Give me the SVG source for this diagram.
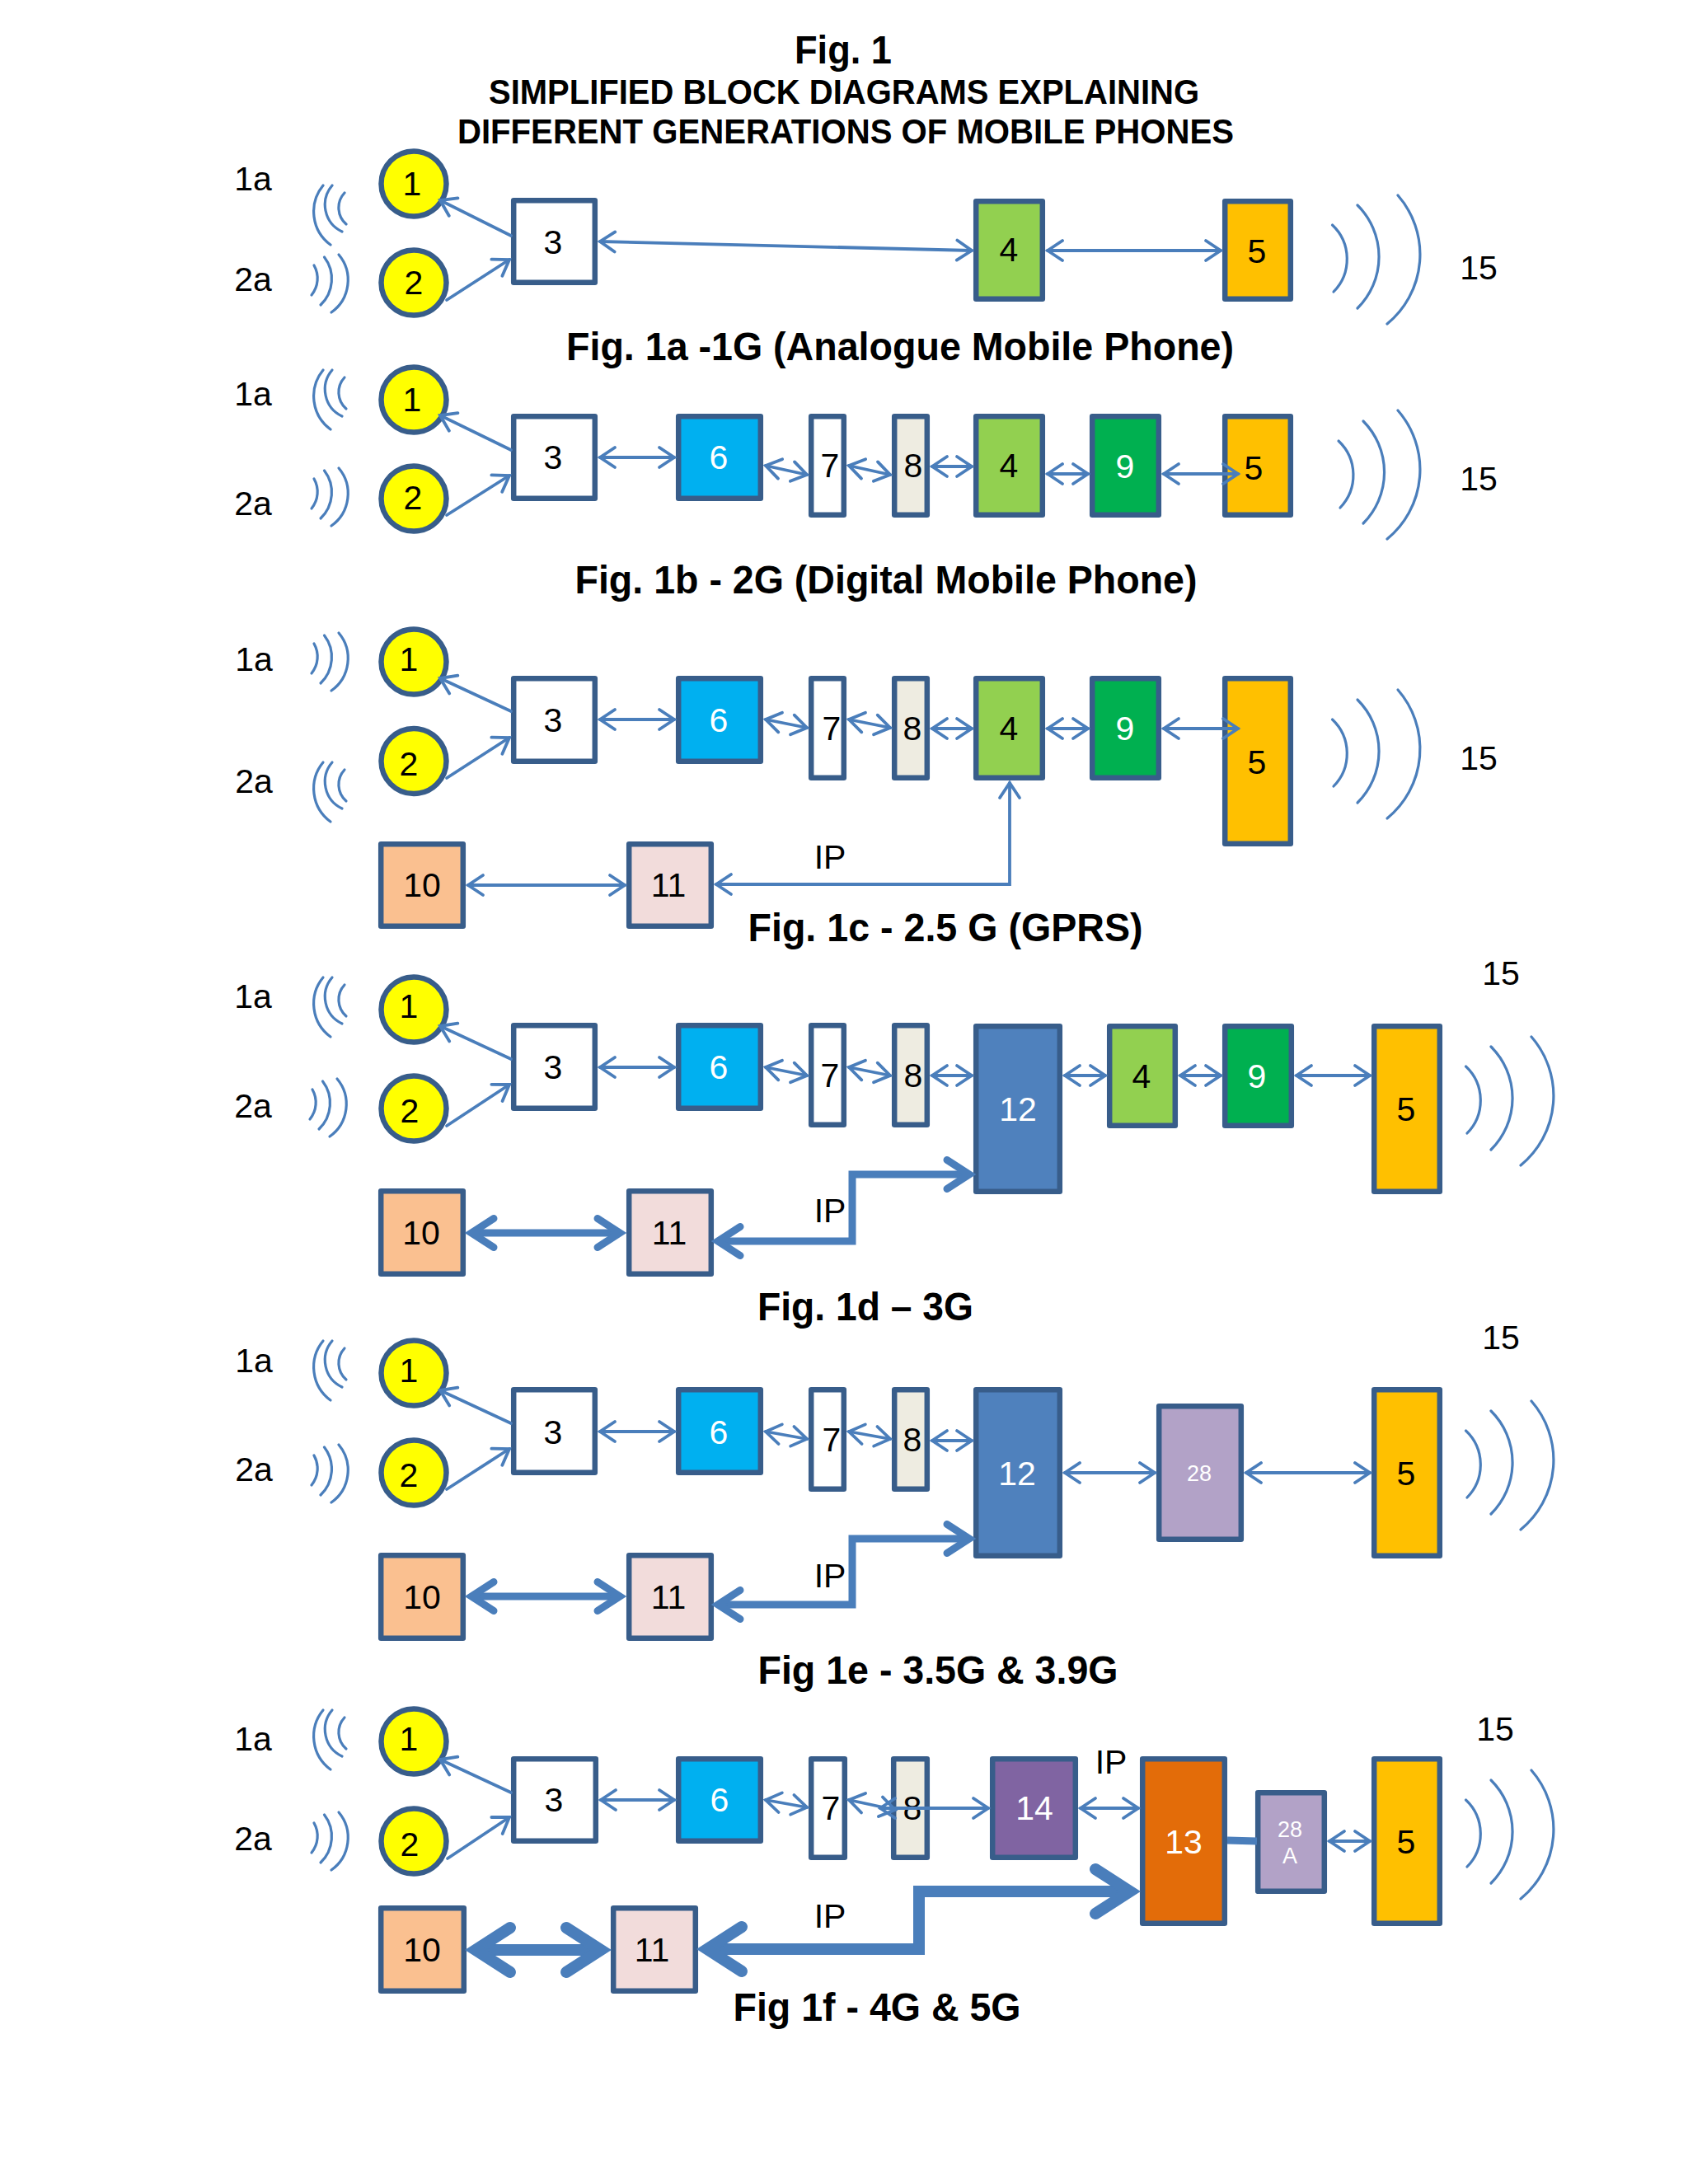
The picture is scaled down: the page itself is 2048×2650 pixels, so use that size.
<svg xmlns="http://www.w3.org/2000/svg" xmlns:xlink="http://www.w3.org/1999/xlink" width="2048" height="2650" viewBox="0 0 2048 2650">
<style>
text{font-family:"Liberation Sans",Arial,sans-serif;font-size:41px;text-anchor:middle;fill:#000}
.t{font-weight:bold;font-size:48px}
.s{font-weight:bold;font-size:42px}
.w{fill:#fff}
.sm{font-size:27px;fill:#fff}
rect,ellipse{stroke:#385d8a;stroke-width:6.5;stroke-linejoin:round}
ellipse{fill:#ff0}
.c0{fill:#fff}.c4{fill:#92d050}.c5{fill:#ffc000}.c6{fill:#00b0f0}.c8{fill:#eeece1}.c9{fill:#00b050}.c10{fill:#fac090}.c11{fill:#f2dcdb}.c12{fill:#4f81bd}.c13{fill:#e36c09}.c14{fill:#8064a2}.c28{fill:#b2a2c7}
path{fill:none;stroke:#4a7ebb;stroke-linecap:round;stroke-linejoin:miter}
.l{stroke-width:3.8}
.be{marker-start:url(#h);marker-end:url(#h)}
.e{marker-end:url(#h)}
.m{stroke-width:9;marker-start:url(#mh);marker-end:url(#mh);stroke-linecap:butt}
.f{stroke-width:14;marker-start:url(#th);marker-end:url(#th);stroke-linecap:butt}
.wv{stroke-width:3.2}
</style>
<defs>
<marker id="h" markerUnits="userSpaceOnUse" markerWidth="60" markerHeight="60" refX="30" refY="30" orient="auto-start-reverse"><path d="M12 18 L30 30 L12 42" stroke-width="3.8"/></marker>
<marker id="mh" markerUnits="userSpaceOnUse" markerWidth="90" markerHeight="90" refX="60" refY="45" orient="auto-start-reverse"><path d="M33 27.5 L60 45 L33 62.5" stroke-width="9"/></marker>
<marker id="th" markerUnits="userSpaceOnUse" markerWidth="120" markerHeight="120" refX="80" refY="60" orient="auto-start-reverse"><path d="M38 33 L80 60 L38 87" stroke-width="14"/></marker>
<g id="wa"><path class="wv" d="M392 225A50 50 0 0 0 401 297"/><path class="wv" d="M403 225A36 36 0 0 0 415 281"/><path class="wv" d="M418 234A26.5 26.5 0 0 0 420 272"/></g>
<g id="wb"><path class="wv" d="M381 322A32 32 0 0 1 378 358"/><path class="wv" d="M393.5 312A43.7 43.7 0 0 1 389 370"/><path class="wv" d="M411 309A48 48 0 0 1 402 379"/></g>
<g id="wc"><path class="wv" d="M1616.5 273A56.7 56.7 0 0 1 1618 354"/><path class="wv" d="M1647 249A88 88 0 0 1 1647 374"/><path class="wv" d="M1696 237A109 109 0 0 1 1683 393"/></g>
</defs>
<rect width="2048" height="2650" style="fill:#fff;stroke:none"/>
<g id="titles">
<text class="t" x="1023" y="77" textLength="118" lengthAdjust="spacingAndGlyphs">Fig. 1</text>
<text class="s" x="1024" y="126" textLength="862" lengthAdjust="spacingAndGlyphs">SIMPLIFIED BLOCK DIAGRAMS EXPLAINING</text>
<text class="s" x="1026" y="174" textLength="942" lengthAdjust="spacingAndGlyphs">DIFFERENT GENERATIONS OF MOBILE PHONES</text>
<text class="t" x="1092" y="437" textLength="810" lengthAdjust="spacingAndGlyphs">Fig. 1a -1G (Analogue Mobile Phone)</text>
<text class="t" x="1075" y="720" textLength="755" lengthAdjust="spacingAndGlyphs">Fig. 1b - 2G (Digital Mobile Phone)</text>
<text class="t" x="1147" y="1142" textLength="479" lengthAdjust="spacingAndGlyphs">Fig. 1c - 2.5 G (GPRS)</text>
<text class="t" x="1050" y="1602" textLength="262" lengthAdjust="spacingAndGlyphs">Fig. 1d – 3G</text>
<text class="t" x="1138" y="2043" textLength="437" lengthAdjust="spacingAndGlyphs">Fig 1e - 3.5G &amp; 3.9G</text>
<text class="t" x="1064" y="2452" textLength="349" lengthAdjust="spacingAndGlyphs">Fig 1f - 4G &amp; 5G</text>
</g>
<g id="waves">
<use xlink:href="#wa"/><use xlink:href="#wb"/><use xlink:href="#wc"/>
<use xlink:href="#wa" y="224"/><use xlink:href="#wb" y="259"/>
<path class="wv" d="M1624 535A57 57 0 0 1 1626 616"/><path class="wv" d="M1654 511A88 88 0 0 1 1654 635"/><path class="wv" d="M1696 498A109 109 0 0 1 1683 654"/>
<use xlink:href="#wb" y="459"/><use xlink:href="#wa" y="700"/><use xlink:href="#wc" y="600"/>
<use xlink:href="#wa" y="961"/><use xlink:href="#wb" x="-2" y="1000"/><use xlink:href="#wc" x="162" y="1021"/>
<use xlink:href="#wa" y="1402"/><use xlink:href="#wb" y="1444"/><use xlink:href="#wc" x="162" y="1463"/>
<use xlink:href="#wa" y="1850"/><use xlink:href="#wb" y="1890"/><use xlink:href="#wc" x="162" y="1911"/>
</g>
<g id="nodes">
<!-- 1a -->
<g id="a-la1"><text x="307" y="231">1a</text></g><g id="a-la2"><text x="307" y="353">2a</text></g><g id="a-la15"><text x="1794" y="339">15</text></g>
<g id="a-1"><ellipse cx="502" cy="223" rx="39.5" ry="39.5"/><text x="500" y="237">1</text></g>
<g id="a-2"><ellipse cx="502" cy="343" rx="39.5" ry="39.5"/><text x="502" y="357">2</text></g>
<g id="a-3"><rect class="c0" x="623.2" y="243.2" width="98.6" height="99.6"/><text x="671" y="308">3</text></g>
<g id="a-4"><rect class="c4" x="1184.2" y="244.2" width="80.6" height="118.6"/><text x="1224" y="317">4</text></g>
<g id="a-5"><rect class="c5" x="1486.2" y="244.2" width="79.6" height="118.6"/><text x="1525" y="319">5</text></g>
<!-- 1b -->
<g id="b-la1"><text x="307" y="492">1a</text></g><g id="b-la2"><text x="307" y="625">2a</text></g><g id="b-la15"><text x="1794" y="595">15</text></g>
<g id="b-1"><ellipse cx="502" cy="485" rx="39.5" ry="39.5"/><text x="500" y="499">1</text></g>
<g id="b-2"><ellipse cx="502" cy="605" rx="39.5" ry="39.5"/><text x="501" y="618">2</text></g>
<g id="b-3"><rect class="c0" x="623.2" y="505.2" width="98.6" height="99.6"/><text x="671" y="569">3</text></g>
<g id="b-6"><rect class="c6" x="823.2" y="505.2" width="99.6" height="99.6"/><text class="w" x="872" y="569">6</text></g>
<g id="b-7"><rect class="c0" x="984.2" y="505.2" width="39.6" height="119.6"/><text x="1007" y="579">7</text></g>
<g id="b-8"><rect class="c8" x="1085.2" y="505.2" width="39.6" height="119.6"/><text x="1108" y="579">8</text></g>
<g id="b-4"><rect class="c4" x="1184.2" y="505.2" width="80.6" height="119.6"/><text x="1224" y="579">4</text></g>
<g id="b-9"><rect class="c9" x="1325.2" y="505.2" width="80.6" height="119.6"/><text class="w" x="1365" y="580">9</text></g>
<g id="b-5"><rect class="c5" x="1486.2" y="505.2" width="79.6" height="119.6"/><text x="1521" y="582">5</text></g>
<!-- 1c -->
<g id="c-la1"><text x="308" y="814">1a</text></g><g id="c-la2"><text x="308" y="962">2a</text></g><g id="c-la15"><text x="1794" y="934">15</text></g>
<g id="c-1"><ellipse cx="502" cy="803" rx="39.5" ry="39.5"/><text x="496" y="814">1</text></g>
<g id="c-2"><ellipse cx="502" cy="923.5" rx="39.5" ry="39.5"/><text x="496" y="941">2</text></g>
<g id="c-3"><rect class="c0" x="623.2" y="823.2" width="98.6" height="100.6"/><text x="671" y="888">3</text></g>
<g id="c-6"><rect class="c6" x="823.2" y="823.2" width="99.6" height="100.6"/><text class="w" x="872" y="888">6</text></g>
<g id="c-7"><rect class="c0" x="984.2" y="823.2" width="39.6" height="120.6"/><text x="1009" y="898">7</text></g>
<g id="c-8"><rect class="c8" x="1085.2" y="823.2" width="39.6" height="120.6"/><text x="1107" y="898">8</text></g>
<g id="c-4"><rect class="c4" x="1184.2" y="823.2" width="80.6" height="120.6"/><text x="1224" y="898">4</text></g>
<g id="c-9"><rect class="c9" x="1325.2" y="823.2" width="80.6" height="120.6"/><text class="w" x="1365" y="898">9</text></g>
<g id="c-5"><rect class="c5" x="1486.2" y="823.2" width="79.6" height="200.6"/><text x="1525" y="939">5</text></g>
<g id="c-10"><rect class="c10" x="462.2" y="1024.2" width="99.6" height="99.6"/><text x="512" y="1088">10</text></g>
<g id="c-11"><rect class="c11" x="763.2" y="1024.2" width="99.6" height="99.6"/><text x="811" y="1088">11</text></g>
<g id="c-ip"><text x="1007" y="1054">IP</text></g>
<!-- 1d -->
<g id="d-la1"><text x="307" y="1223">1a</text></g><g id="d-la2"><text x="307" y="1356">2a</text></g><g id="d-la15"><text x="1821" y="1195">15</text></g>
<g id="d-1"><ellipse cx="502" cy="1225" rx="39.5" ry="39.5"/><text x="496" y="1235">1</text></g>
<g id="d-2"><ellipse cx="502" cy="1345" rx="39.5" ry="39.5"/><text x="497" y="1362">2</text></g>
<g id="d-3"><rect class="c0" x="623.2" y="1244.2" width="98.6" height="100.6"/><text x="671" y="1309">3</text></g>
<g id="d-6"><rect class="c6" x="823.2" y="1244.2" width="99.6" height="100.6"/><text class="w" x="872" y="1309">6</text></g>
<g id="d-7"><rect class="c0" x="984.2" y="1244.2" width="39.6" height="120.6"/><text x="1007" y="1319">7</text></g>
<g id="d-8"><rect class="c8" x="1085.2" y="1244.2" width="39.6" height="120.6"/><text x="1108" y="1319">8</text></g>
<g id="d-12"><rect class="c12" x="1184.2" y="1245.2" width="101.6" height="200.6"/><text class="w" x="1235" y="1360">12</text></g>
<g id="d-4"><rect class="c4" x="1346.2" y="1245.2" width="79.6" height="120.6"/><text x="1385" y="1320">4</text></g>
<g id="d-9"><rect class="c9" x="1486.2" y="1245.2" width="80.6" height="120.6"/><text class="w" x="1525" y="1320">9</text></g>
<g id="d-5"><rect class="c5" x="1667.2" y="1245.2" width="79.6" height="200.6"/><text x="1706" y="1360">5</text></g>
<g id="d-10"><rect class="c10" x="462.2" y="1445.2" width="99.6" height="100.6"/><text x="511" y="1510">10</text></g>
<g id="d-11"><rect class="c11" x="763.2" y="1445.2" width="99.6" height="100.6"/><text x="812" y="1510">11</text></g>
<g id="d-ip"><text x="1007" y="1483">IP</text></g>
<!-- 1e -->
<g id="e-la1"><text x="308" y="1665">1a</text></g><g id="e-la2"><text x="308" y="1797">2a</text></g><g id="e-la15"><text x="1821" y="1637">15</text></g>
<g id="e-1"><ellipse cx="502" cy="1666" rx="39.5" ry="39.5"/><text x="496" y="1677">1</text></g>
<g id="e-2"><ellipse cx="502" cy="1787" rx="39.5" ry="39.5"/><text x="496" y="1804">2</text></g>
<g id="e-3"><rect class="c0" x="623.2" y="1686.2" width="98.6" height="100.6"/><text x="671" y="1752">3</text></g>
<g id="e-6"><rect class="c6" x="823.2" y="1686.2" width="99.6" height="100.6"/><text class="w" x="872" y="1752">6</text></g>
<g id="e-7"><rect class="c0" x="984.2" y="1686.2" width="39.6" height="120.6"/><text x="1009" y="1761">7</text></g>
<g id="e-8"><rect class="c8" x="1085.2" y="1686.2" width="39.6" height="120.6"/><text x="1107" y="1761">8</text></g>
<g id="e-12"><rect class="c12" x="1184.2" y="1686.2" width="101.6" height="201.6"/><text class="w" x="1234" y="1802">12</text></g>
<g id="e-28"><rect class="c28" x="1406.2" y="1706.2" width="99.6" height="161.6"/><text class="sm" x="1455" y="1797">28</text></g>
<g id="e-5"><rect class="c5" x="1667.2" y="1686.2" width="79.6" height="201.6"/><text x="1706" y="1802">5</text></g>
<g id="e-10"><rect class="c10" x="462.2" y="1887.2" width="99.6" height="100.6"/><text x="512" y="1952">10</text></g>
<g id="e-11"><rect class="c11" x="763.2" y="1887.2" width="99.6" height="100.6"/><text x="811" y="1952">11</text></g>
<g id="e-ip"><text x="1007" y="1926">IP</text></g>
<!-- 1f -->
<g id="f-la1"><text x="307" y="2124">1a</text></g><g id="f-la2"><text x="307" y="2245">2a</text></g><g id="f-la15"><text x="1814" y="2112">15</text></g>
<g id="f-1"><ellipse cx="502" cy="2113" rx="39.5" ry="39.5"/><text x="496" y="2124">1</text></g>
<g id="f-2"><ellipse cx="502" cy="2234" rx="39.5" ry="39.5"/><text x="497" y="2252">2</text></g>
<g id="f-3"><rect class="c0" x="623.2" y="2134.2" width="99.6" height="99.6"/><text x="672" y="2198">3</text></g>
<g id="f-6"><rect class="c6" x="823.2" y="2134.2" width="99.6" height="99.6"/><text class="w" x="873" y="2198">6</text></g>
<g id="f-7"><rect class="c0" x="984.2" y="2134.2" width="40.6" height="119.6"/><text x="1008" y="2208">7</text></g>
<g id="f-8"><rect class="c8" x="1084.2" y="2134.2" width="40.6" height="119.6"/><text x="1107" y="2208">8</text></g>
<g id="f-14"><rect class="c14" x="1204.2" y="2134.2" width="100.6" height="119.6"/><text class="w" x="1255" y="2208">14</text></g>
<g id="f-ip2"><text x="1348" y="2152">IP</text></g>
<g id="f-13"><rect class="c13" x="1386.2" y="2134.2" width="99.6" height="199.6"/><text class="w" x="1436" y="2249">13</text></g>
<g id="f-28a"><rect class="c28" x="1526.2" y="2175.2" width="80.6" height="119.6"/><text class="sm" x="1565" y="2229">28</text><text class="sm" x="1565" y="2261">A</text></g>
<g id="f-5"><rect class="c5" x="1667.2" y="2134.2" width="79.6" height="199.6"/><text x="1706" y="2249">5</text></g>
<g id="f-10"><rect class="c10" x="462.2" y="2315.2" width="100.6" height="100.6"/><text x="512" y="2380">10</text></g>
<g id="f-11"><rect class="c11" x="744.2" y="2315.2" width="99.6" height="100.6"/><text x="791" y="2380">11</text></g>
<g id="f-ip"><text x="1007" y="2339">IP</text></g>
</g>
<g id="connectors">
<!-- 1a -->
<path class="l e" d="M620 286L534 243"/><path class="l e" d="M542 364L618 315"/>
<path class="l be" d="M728 293L1179 304"/><path class="l be" d="M1271 304L1481 304"/>
<!-- 1b -->
<path class="l e" d="M620 546L534 504"/><path class="l e" d="M542 625L618 577"/>
<path class="l be" d="M728 555L818 555"/><path class="l be" d="M929 565L979 576"/><path class="l be" d="M1030 565L1080 576"/><path class="l be" d="M1131 566L1179 566"/><path class="l be" d="M1271 575L1320 575"/><path class="l be" d="M1412 575L1502 575"/>
<!-- 1c -->
<path class="l e" d="M620 863L534 823"/><path class="l e" d="M542 944L618 895"/>
<path class="l be" d="M728 873L818 873"/><path class="l be" d="M929 873L979 883"/><path class="l be" d="M1030 873L1080 883"/><path class="l be" d="M1131 884L1179 884"/><path class="l be" d="M1271 884L1320 884"/><path class="l be" d="M1412 884L1502 884"/>
<path class="l be" d="M568 1074L758 1074"/><path class="l be" d="M869 1073L1225 1073L1225 950"/>
<!-- 1d -->
<path class="l e" d="M620 1285L534 1245"/><path class="l e" d="M542 1366L618 1316"/>
<path class="l be" d="M728 1295L818 1295"/><path class="l be" d="M929 1295L979 1305"/><path class="l be" d="M1030 1295L1080 1305"/><path class="l be" d="M1131 1305L1179 1305"/><path class="l be" d="M1292 1305L1341 1305"/><path class="l be" d="M1432 1305L1481 1305"/><path class="l be" d="M1573 1305L1662 1305"/>
<path class="m" d="M572 1496L752 1496"/><path class="m" d="M871 1506L1034 1506L1034 1425L1176 1425"/>
<!-- 1e -->
<path class="l e" d="M620 1727L534 1687"/><path class="l e" d="M542 1807L618 1758"/>
<path class="l be" d="M728 1737L818 1737"/><path class="l be" d="M929 1737L979 1746"/><path class="l be" d="M1030 1737L1080 1746"/><path class="l be" d="M1131 1748L1179 1748"/><path class="l be" d="M1292 1787L1401 1787"/><path class="l be" d="M1512 1787L1662 1787"/>
<path class="m" d="M572 1937L752 1937"/><path class="m" d="M871 1947L1034 1947L1034 1867L1176 1867"/>
<!-- 1f -->
<path class="l e" d="M620 2175L534 2135"/><path class="l e" d="M543 2255L618 2205"/>
<path class="l be" d="M729 2184L818 2184"/><path class="l be" d="M929 2184L979 2193"/><path class="l be" d="M1030 2184L1086 2196"/><path class="l be" d="M1068 2194L1199 2194"/><path class="l be" d="M1311 2194L1381 2194"/>
<path d="M1489 2233L1525 2234" style="stroke-width:9;stroke-linecap:butt"/><path class="l be" d="M1613 2234L1662 2234"/>
<path class="f" d="M577 2366L729 2366"/><path class="f" d="M858 2365L1115 2365L1115 2295L1371 2295"/>
</g>
</svg>
